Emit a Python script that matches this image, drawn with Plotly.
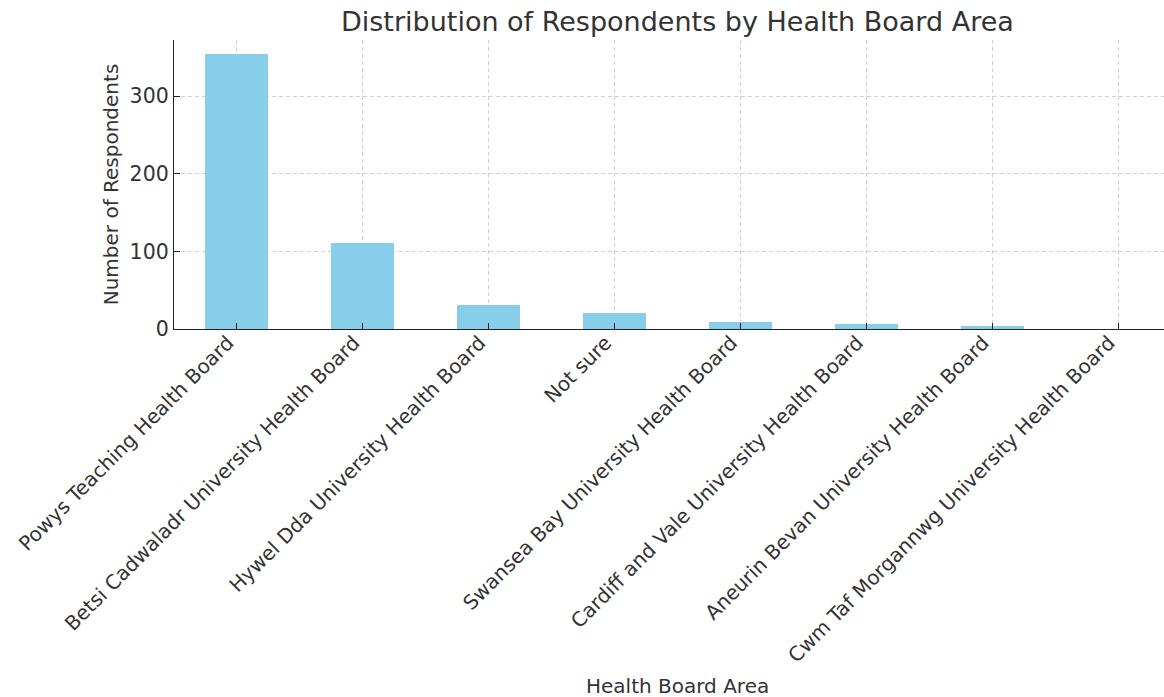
import plotly.graph_objects as go

categories = [
    "Powys Teaching Health Board",
    "Betsi Cadwaladr University Health Board",
    "Hywel Dda University Health Board",
    "Not sure",
    "Swansea Bay University Health Board",
    "Cardiff and Vale University Health Board",
    "Aneurin Bevan University Health Board",
    "Cwm Taf Morgannwg University Health Board",
]
respondents = [355, 111, 31, 20, 9, 6, 4, 0]
y_ticks = [0, 100, 200, 300]

W, H = 1164, 697
L, R, T = 174, 0, 40
B = H - 329
font_family = "DejaVu Sans, sans-serif"
text_col = "#333333"

fig = go.Figure(
    go.Bar(
        x=list(range(len(categories))),
        y=respondents,
        width=0.5,
        marker=dict(color="#87CEEB", line=dict(width=0)),
    )
)

# center of the (cropped) matplotlib axes, in paper coords
center_x = (677.5 - L) / (W - L - R)

fig.update_layout(
    width=W,
    height=H,
    margin=dict(l=L, r=R, t=T, b=B, pad=0, autoexpand=False),
    paper_bgcolor="white",
    plot_bgcolor="white",
    showlegend=False,
    bargap=0,
    font=dict(family=font_family, size=20, color=text_col),
    annotations=[
        dict(
            text="Distribution of Respondents by Health Board Area",
            xref="paper", yref="paper",
            x=center_x, y=1, yshift=19,
            xanchor="center", yanchor="middle",
            showarrow=False, borderpad=0,
            font=dict(size=27, color=text_col, family=font_family),
        ),
        dict(
            text="Health Board Area",
            xref="paper", yref="paper",
            x=center_x, y=0, yshift=-(686 - 329),
            xanchor="center", yanchor="middle",
            showarrow=False, borderpad=0,
            font=dict(size=20, color=text_col, family=font_family),
        ),
    ],
)

fig.update_xaxes(
    automargin=False,
    range=[-0.5, 7.5 - 17 / 126],
    tickmode="array",
    tickvals=list(range(len(categories))),
    ticktext=categories,
    tickangle=-45,
    ticklabelshift=-9,
    ticklabelstandoff=-7,
    ticks="inside",
    ticklen=6,
    tickwidth=1.2,
    tickcolor="#222222",
    showline=True,
    linecolor="#222222",
    linewidth=1.3,
    showgrid=True,
    gridcolor="#d0d0d0",
    griddash="4px,3px",
    gridwidth=0.8,
    zeroline=False,
    tickfont=dict(size=20, color=text_col),
)
fig.update_yaxes(
    automargin=False,
    range=[0, 372.5],
    tickmode="array",
    tickvals=y_ticks,
    ticks="inside",
    ticklen=6,
    tickwidth=1.2,
    tickcolor="#222222",
    showline=True,
    linecolor="#222222",
    linewidth=1.3,
    showgrid=True,
    gridcolor="#d0d0d0",
    griddash="4px,3px",
    gridwidth=0.8,
    zeroline=False,
    tickfont=dict(size=20.5, color=text_col),
    title=dict(text="Number of Respondents", font=dict(size=20, color=text_col), standoff=5),
)

fig.write_html(
    "out.html",
    config={"displayModeBar": False},
    post_script="document.body.style.margin='0px';",
)
